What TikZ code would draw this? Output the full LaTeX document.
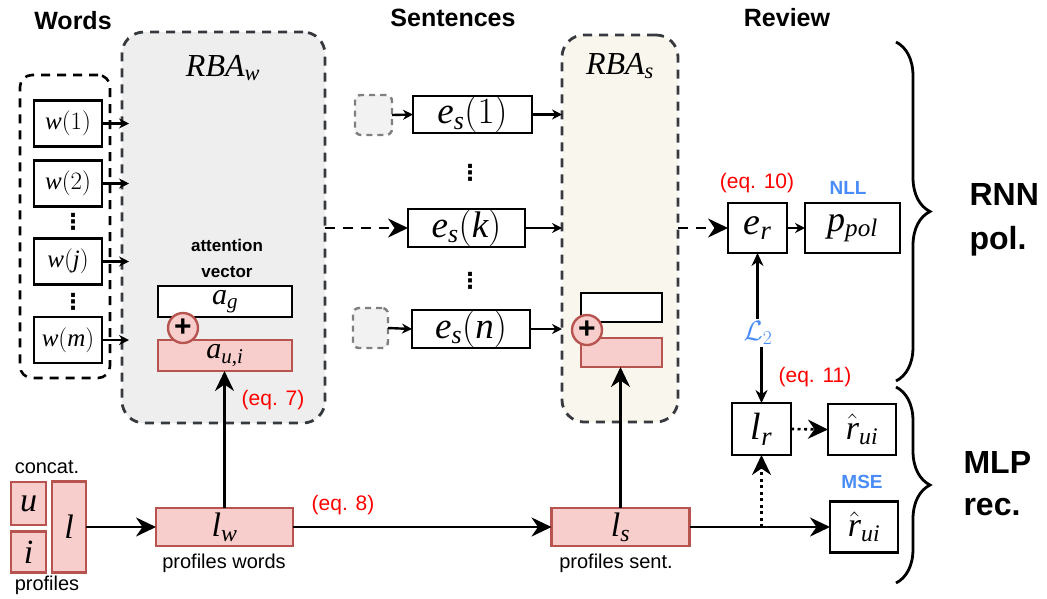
\RequirePackage{fix-cm}
\documentclass[tikz,border=0pt]{standalone}
\usepackage{fontspec}
\setmainfont{Liberation Sans}
\newfontfamily\tms{Liberation Serif}[NFSSFamily=tms]
\newfontfamily\djv{DejaVu Sans}
\DeclareSymbolFont{tmsit}{TU}{tms}{m}{it}
\DeclareSymbolFont{tmsup}{TU}{tms}{m}{n}
\newcount\mylc
\mylc=97 \loop \Umathcode\mylc=7 \symtmsit \mylc \advance\mylc 1 \ifnum\mylc<123 \repeat
\mylc=65 \loop \Umathcode\mylc=7 \symtmsit \mylc \advance\mylc 1 \ifnum\mylc<91 \repeat
\mylc=48 \loop \Umathcode\mylc=0 \symtmsup \mylc \advance\mylc 1 \ifnum\mylc<58 \repeat
\Umathcode`(=4 \symtmsup `(
\Umathcode`)=5 \symtmsup `)
\Umathcode`,=6 \symtmsup `,
\usetikzlibrary{arrows.meta,decorations.pathreplacing}
\definecolor{pinkf}{HTML}{F8CECC}
\definecolor{pinkd}{HTML}{B85450}
\definecolor{grayf}{HTML}{EEEEEE}
\definecolor{beigef}{HTML}{F9F7ED}
\definecolor{dashc}{HTML}{36393D}
\definecolor{eqred}{HTML}{FF0000}
\definecolor{lblue}{HTML}{4A8CF7}
\definecolor{sqf}{HTML}{F2F2F2}
\definecolor{sqd}{HTML}{7F7F7F}
\newcommand{\fsz}[1]{\fontsize{#1}{#1}\selectfont}
\tikzset{
  bx/.style 2 args={draw, line width=2.6pt, fill=white, minimum width=#1, minimum height=#2, inner sep=0pt, outer sep=0pt},
  pk/.style 2 args={bx={#1}{#2}, draw=pinkd, fill=pinkf},
  rba/.style={draw=dashc, line width=2.8pt, dash pattern=on 9pt off 7pt, rounded corners=22pt, inner sep=0pt, outer sep=0pt},
  sq/.style={draw=sqd, fill=sqf, line width=2.4pt, dash pattern=on 6pt off 5pt, rounded corners=6pt, inner sep=0pt, outer sep=0pt},
  hd/.style={font=\fsz{25}\bfseries},
  eqlab/.style={text=eqred, font=\fsz{21}},
  bluelab/.style={text=lblue, font=\fsz{19}\bfseries},
  sub/.style={font=\fsz{20}},
  vdt/.style={font=\djv\fsz{22}\bfseries, inner sep=0pt},
  plus/.style={circle, draw=pinkd, fill=pinkf, line width=2.4pt, minimum size=30pt, inner sep=0pt, font=\fsz{30}\bfseries},
  sm/.style={line width=2.4pt, -{Stealth[length=10pt,width=10pt]}},
  md/.style={line width=2.4pt, -{Stealth[length=13pt,width=12pt]}},
  big/.style={line width=2.6pt, -{Stealth[length=20pt,width=19pt]}},
  dsh/.style={big, dash pattern=on 10pt off 8pt},
  dtt/.style={big, dash pattern=on 3pt off 3.5pt},
  brc/.style={line width=2.8pt, decorate, decoration={brace, amplitude=34pt}},
}
\begin{document}
\begin{tikzpicture}[x=1pt,y=-1pt]
\useasboundingbox (0,0) rectangle (1047,598);

% headings
\node[hd] (hw) at (73,21) {Words};
\node[hd] (hs) at (453,18) {Sentences};
\node[hd] (hr) at (787,18) {Review};

% RBA containers
\node[rba, fill=grayf, minimum width=203pt, minimum height=391pt] (RBAw) at (223.5,227.5) {};
\node[font=\fsz{32}] (RBAwl) at (223,68) {$RBA_w$};
\node[rba, fill=beigef, minimum width=116pt, minimum height=387pt] (RBAs) at (620,228.5) {};
\node[font=\fsz{32}] (RBAsl) at (620,66) {$RBA_s$};

% words group
\node[draw, line width=2.6pt, dash pattern=on 9pt off 7pt, rounded corners=12pt, minimum width=90pt, minimum height=303pt, inner sep=0pt] (wgrp) at (65,226.5) {};
\node[bx={68pt}{46pt}, font=\fsz{25}] (w1) at (68,123.5) {$w(1)$};
\node[bx={68pt}{46pt}, font=\fsz{25}] (w2) at (68,183.5) {$w(2)$};
\node[bx={68pt}{46pt}, font=\fsz{25}] (wj) at (68,261.5) {$w(j)$};
\node[bx={68pt}{46pt}, font=\fsz{25}] (wm) at (68,340) {$w(m)$};
\node[vdt] (d1) at (73,222) {⋮};
\node[vdt] (d2) at (73,302) {⋮};
\foreach \n in {w1,w2,wj,wm}{
  \draw[sm] (\n.east) -- ([xshift=7pt]\n.east -| RBAw.west);
}

% attention vector
\node[font={\fontsize{17}{26}\selectfont\bfseries}, align=center] (attn) at (227,258) {attention\\vector};
\node[bx={134pt}{31pt}, font=\fsz{30}] (ag) at (225,301.5) {$a_g$};
\node[pk={134pt}{31pt}, font=\fsz{30}] (aui) at (225,355.5) {$a_{u,i}$};
\node[plus] (pw) at (183,328) {+};
\node[eqlab] (eq7) at (273,400) {(eq. 7)};

% sentences
\node[sq, minimum width=37pt, minimum height=40pt] (sq1) at (373.5,115) {};
\node[sq, minimum width=35pt, minimum height=40pt] (sq2) at (370.5,328) {};
\node[bx={119pt}{37pt}, font=\fsz{37}] (es1) at (472.5,114.5) {$e_s(1)$};
\node[bx={117pt}{38pt}, font=\fsz{37}] (esk) at (466.5,228) {$e_s(k)$};
\node[bx={118pt}{38pt}, font=\fsz{37}] (esn) at (471,329) {$e_s(n)$};
\node[vdt] (d3) at (470,173) {⋮};
\node[vdt] (d4) at (470,281) {⋮};
\draw[sm] (sq1.east) -- (es1.west);
\draw[sm] (sq2.east) -- (esn.west);
\draw[sm] (es1.east) -- (es1.east -| RBAs.west);
\draw[sm] (esk.east) -- (esk.east -| RBAs.west);
\draw[sm] (esn.east) -- (esn.east -| RBAs.west);
\draw[dsh] (RBAw.east |- esk.west) -- (esk.west);

\node[bx={81pt}{29pt}] (wbs) at (621.5,307.5) {};
\node[pk={81pt}{29pt}] (pks) at (621.5,352.5) {};
\node[plus] (ps) at (587,330) {+};

% profiles
\node[sub] (concat) at (47,467) {concat.};
\node[pk={35pt}{43pt}, font=\fsz{34}] (u) at (28.5,503.5) {$u$};
\node[pk={35pt}{41pt}, font=\fsz{34}] (i) at (28.5,552) {$i$};
\node[pk={34pt}{91pt}, font=\fsz{34}] (l) at (69,527) {$l$};
\node[sub] (prof) at (47,585) {profiles};
\node[pk={137pt}{38pt}, font=\fsz{34}] (lw) at (224.5,527) {$l_w$};
\node[sub] (plw) at (224,563) {profiles words};
\node[pk={138pt}{38pt}, font=\fsz{34}] (ls) at (620.5,527) {$l_s$};
\node[sub] (pls) at (616,563) {profiles sent.};
\node[eqlab] (eq8) at (343,505) {(eq. 8)};
\draw[big] (l.east) -- (lw.west);
\draw[big] (lw.east) -- (ls.west);
\draw[big] (lw.north) -- (lw.north |- aui.south);
\draw[big] (ls.north) -- (ls.north |- pks.south);

% review
\node[bx={59pt}{50pt}, font=\fsz{38}] (er) at (757.5,228) {$e_r$};
\node[bx={95pt}{50pt}, font=\fsz{36}] (pp) at (852.5,228) {$p_{pol}$};
\node[eqlab] (eq10) at (757,183) {(eq. 10)};
\node[bluelab] (nll) at (848,188) {NLL};
\draw[dsh] (RBAs.east |- er.west) -- (er.west);
\draw[sm] (er.east) -- (pp.west);
\node[text=lblue, font=\fsz{28}, inner sep=2pt] (L2) at (758,333) {$\mathcal{L}_2$};
\node[bx={59pt}{52pt}, font=\fsz{38}] (lr) at (761.5,429) {$l_r$};
\node[bx={68pt}{51pt}, font=\fsz{34}] (rh1) at (862,429.5) {$\hat{r}_{ui}$};
\node[bx={68pt}{51pt}, font=\fsz{34}] (rh2) at (864,527) {$\hat{r}_{ui}$};
\node[eqlab] (eq11) at (815,377) {(eq. 11)};
\node[bluelab] (mse) at (862,482) {MSE};
\draw[md] (L2.north -| er.south) -- (er.south);
\draw[md] (L2.south -| lr.north) -- (lr.north);
\draw[dtt] (lr.east) -- (rh1.west);
\draw[big] (ls.east) -- (rh2.west);
\coordinate (jn) at (lr.south |- ls.east);
\draw[dtt] (jn) -- (lr.south);

% braces
\draw[brc] (896,42) -- (896,381) coordinate (b1end);
\draw[brc] (896,387) -- (896,583) coordinate (b2end);
\node[font={\fontsize{32}{44}\selectfont\bfseries}, align=left, anchor=west] (rnn) at (966,220) {RNN\\pol.};
\node[font={\fontsize{32}{42}\selectfont\bfseries}, align=left, anchor=west] (mlp) at (960,484) {MLP\\rec.};
\end{tikzpicture}
\end{document}
